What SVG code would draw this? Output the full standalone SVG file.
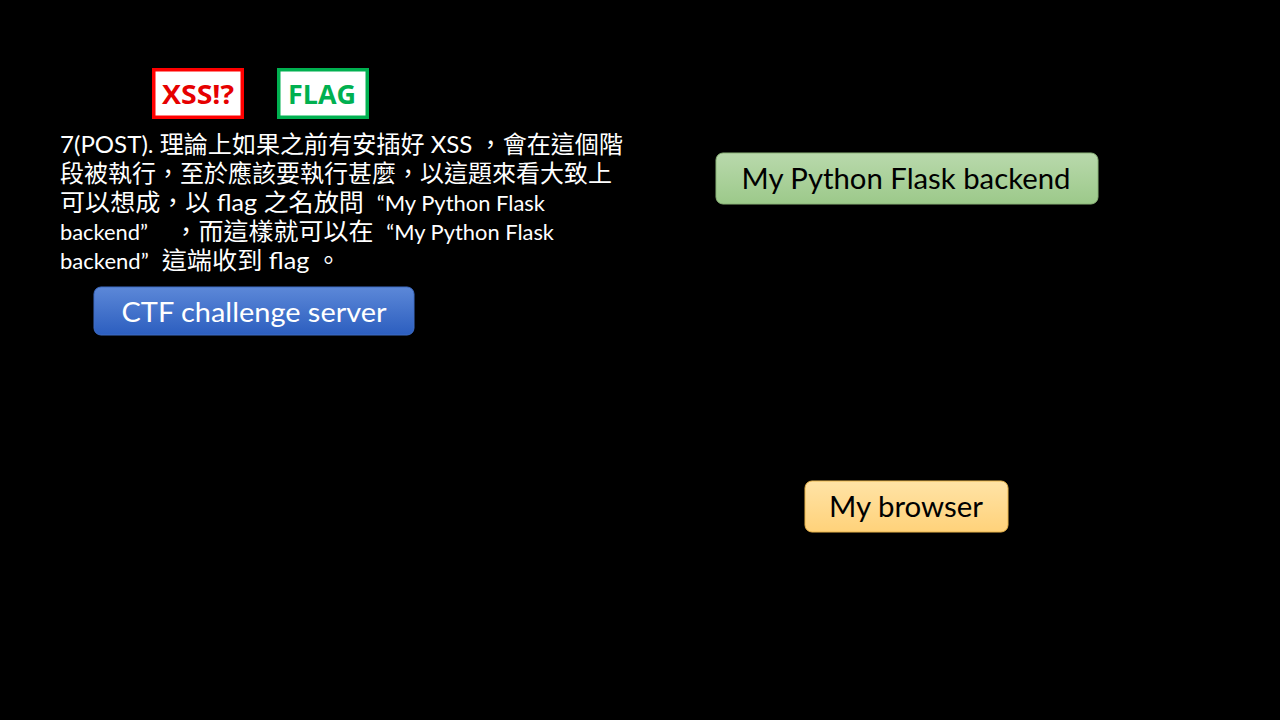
<svg xmlns="http://www.w3.org/2000/svg" width="1280" height="720" viewBox="0 0 1280 720">
<defs>
<linearGradient id="gBlue" x1="0" y1="0" x2="0" y2="1"><stop offset="0" stop-color="#5C88D8"/><stop offset="1" stop-color="#2C5EBF"/></linearGradient>
<linearGradient id="gGreen" x1="0" y1="0" x2="0" y2="1"><stop offset="0" stop-color="#B9D9AC"/><stop offset="1" stop-color="#9CC98A"/></linearGradient>
<linearGradient id="gYellow" x1="0" y1="0" x2="0" y2="1"><stop offset="0" stop-color="#FFE3A6"/><stop offset="1" stop-color="#FFD27A"/></linearGradient>
</defs>
<style>
.lbl{font-family:Lato,"Noto Sans",sans-serif;text-anchor:middle}
.tag{font-family:"Open Sans",Lato,sans-serif;font-weight:bold;font-size:27px;text-anchor:middle}
.body{font-family:Lato,"Noto Sans CJK TC",sans-serif;font-size:24px;fill:#FFFFFF;white-space:pre}
.sm{font-size:21px}
</style>
<rect width="1280" height="720" fill="#000000"/>
<g id="tag-xss">
<rect x="153.75" y="69.75" width="88.5" height="47.5" fill="#FFFFFF" stroke="#FF0000" stroke-width="3.5"/>
<text class="tag" x="198" y="104" fill="#E60000" textLength="72" lengthAdjust="spacingAndGlyphs">XSS!?</text>
</g>
<g id="tag-flag">
<rect x="278.75" y="69.75" width="88.5" height="47.5" fill="#FFFFFF" stroke="#00B050" stroke-width="3.5"/>
<text class="tag" x="322" y="104" fill="#00B050" textLength="68" lengthAdjust="spacingAndGlyphs">FLAG</text>
</g>
<g id="description">
<text class="body" x="60" y="153" textLength="563" lengthAdjust="spacingAndGlyphs">7(POST). 理論上如果之前有安插好 XSS ，會在這個階</text>
<text class="body" x="60" y="182" textLength="552" lengthAdjust="spacingAndGlyphs">段被執行，至於應該要執行甚麼，以這題來看大致上</text>
<text class="body" x="60" y="211" textLength="485" lengthAdjust="spacingAndGlyphs">可以想成，以 flag 之名放問&#160;&#160;<tspan class="sm">“My Python Flask</tspan></text>
<text class="body" x="60" y="240" textLength="494" lengthAdjust="spacingAndGlyphs"><tspan class="sm">backend”</tspan>&#160;&#160;&#160;&#160;，而這樣就可以在&#160;&#160;<tspan class="sm">“My Python Flask</tspan></text>
<text class="body" x="60" y="269" textLength="281" lengthAdjust="spacingAndGlyphs"><tspan class="sm">backend”</tspan>&#160;&#160;這端收到 flag 。</text>
</g>
<g id="node-ctf">
<rect x="94" y="287" width="320" height="48" rx="7" fill="url(#gBlue)" stroke="#3E6CC4" stroke-width="1"/>
<text class="lbl" x="254" y="322" font-size="27" fill="#FFFFFF" textLength="265" lengthAdjust="spacingAndGlyphs">CTF challenge server</text>
</g>
<g id="node-flask">
<rect x="716" y="153" width="382" height="51" rx="7" fill="url(#gGreen)" stroke="#8BB479" stroke-width="1"/>
<text class="lbl" x="906" y="189" font-size="28" fill="#000000" textLength="329" lengthAdjust="spacingAndGlyphs">My Python Flask backend</text>
</g>
<g id="node-browser">
<rect x="805" y="481" width="203" height="51" rx="7" fill="url(#gYellow)" stroke="#E9B54C" stroke-width="1"/>
<text class="lbl" x="906" y="517" font-size="28" fill="#000000" textLength="154" lengthAdjust="spacingAndGlyphs">My browser</text>
</g>
<g id="connectors"></g>
</svg>
